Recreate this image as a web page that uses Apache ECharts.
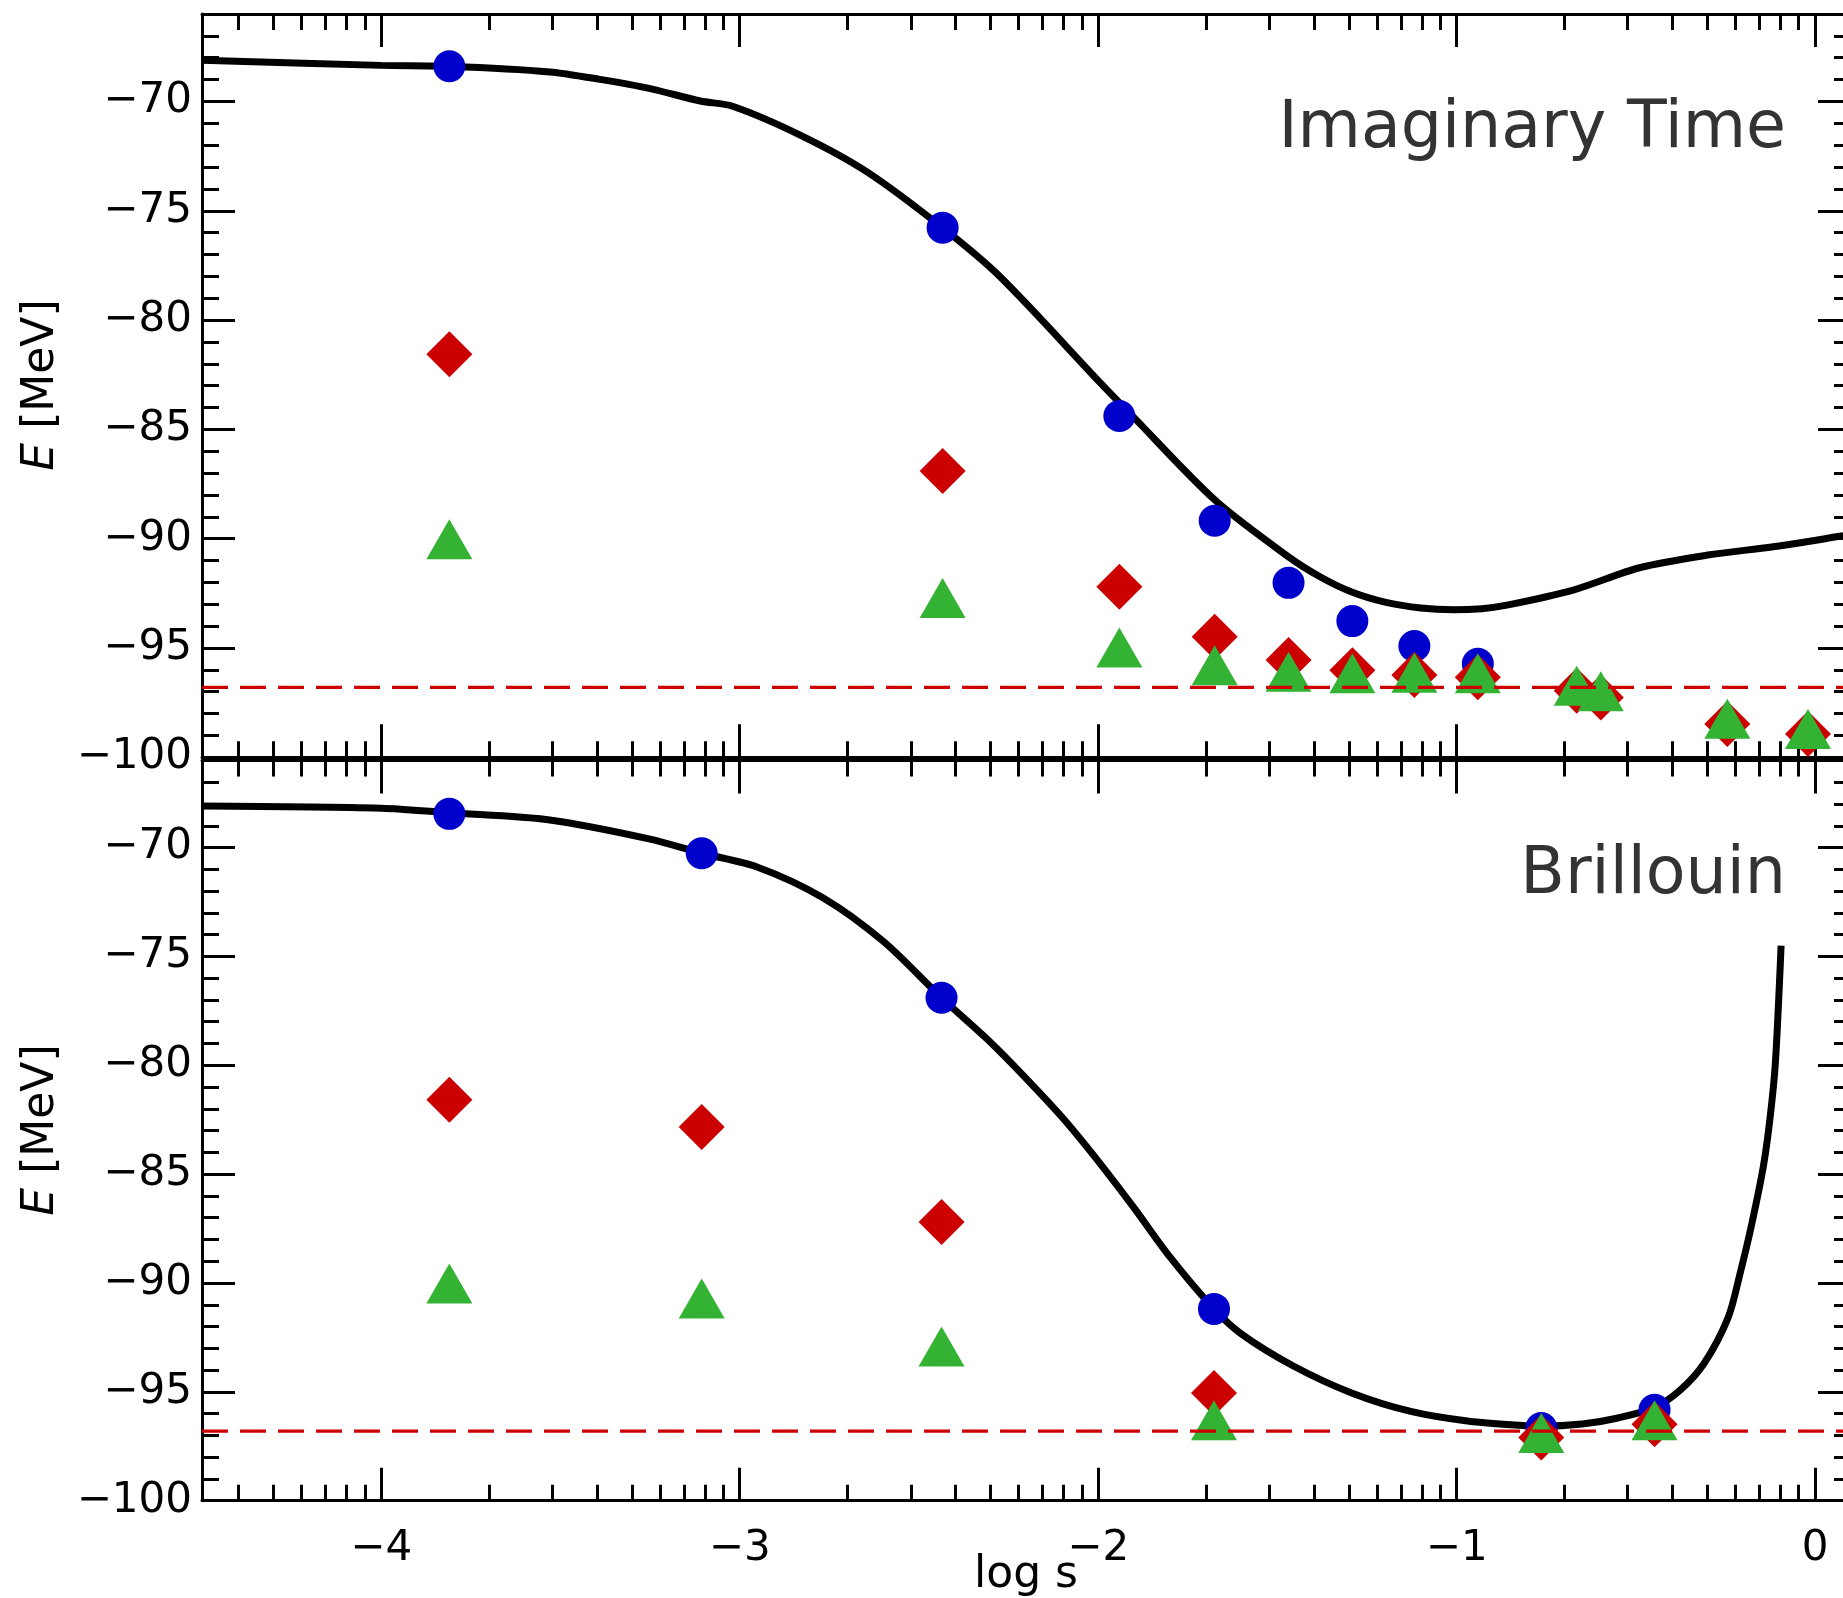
<!DOCTYPE html>
<html>
<head>
<meta charset="utf-8">
<script src="https://cdn.jsdelivr.net/npm/echarts@6/dist/echarts.min.js"></script>
<style>
  html, body { margin: 0; padding: 0; background: #fff; }
  #chart { width: 1843px; height: 1598px; }
</style>
</head>
<body>
<div id="chart"></div>
<script>
// ---- axis ranges and ticks ----
const X_MIN = -4.5, X_MAX = 0.1;
const Y_MIN = -100, Y_MAX = -66;
const xMajorTicks = [-4, -3, -2, -1, 0];
const yMajorTicks = [-100, -95, -90, -85, -80, -75, -70];
const E_REF = -96.8;

// ---- Imaginary Time panel ----
const logSTop = [-3.81, -2.434, -1.941, -1.675, -1.469, -1.291, -1.118, -0.941, -0.665, -0.598, -0.245, -0.02];
const blueTop = [-68.39, -75.78, -84.39, -89.18, -92.02, -93.77, -94.91, -95.72];
const redTop = [-81.56, -86.9, -92.2, -94.49, -95.55, -96.02, -96.24, -96.34, -96.96, -97.26, -98.48, -98.93];
const greenTop = [-90.03, -92.71, -94.98, -95.79, -96.09, -96.16, -96.13, -96.16, -96.73, -96.98, -98.24, -98.71];
const curveTopX = [-4.5, -4.0, -3.81, -3.53, -3.39, -3.25, -3.11, -3.02, -2.83, -2.645, -2.434, -2.273, -1.994, -1.902, -1.674, -1.469, -1.38, -1.291, -1.2, -1.1, -1.009, -0.93, -0.86, -0.675, -0.49, -0.30, -0.117, 0.0725, 0.1];
const curveTopY = [-68.12, -68.35, -68.39, -68.65, -68.99, -69.41, -69.98, -70.22, -71.55, -73.22, -75.78, -78.03, -82.87, -84.43, -88.24, -90.83, -91.75, -92.45, -92.9, -93.17, -93.25, -93.2, -93.04, -92.35, -91.33, -90.75, -90.37, -89.88, -89.8];

// ---- Brillouin panel ----
const logSBot = [-3.81, -3.106, -2.437, -1.677, -0.764, -0.448];
const blueBot = [-68.45, -70.26, -76.9, -91.19, -96.66, -95.82];
const redBot = [-81.58, -82.83, -87.2, -95.05, -97.1, -96.49];
const greenBot = [-90.02, -90.71, -92.92, -96.31, -96.89, -96.31];
const curveBotX = [-4.5, -4.0, -3.81, -3.53, -3.25, -3.106, -2.95, -2.768, -2.6, -2.437, -2.3, -2.21, -2.1, -2.0, -1.9, -1.8, -1.677, -1.6, -1.457, -1.293, -1.128, -0.965, -0.8, -0.764, -0.65, -0.55, -0.448, -0.375, -0.31, -0.243, -0.21, -0.177, -0.144, -0.125, -0.111, -0.095];
const curveBotY = [-68.09, -68.19, -68.4, -68.73, -69.61, -70.26, -70.9, -72.3, -74.3, -76.9, -78.95, -80.45, -82.4, -84.4, -86.55, -88.8, -91.19, -92.35, -93.8, -95.05, -95.9, -96.35, -96.56, -96.58, -96.48, -96.2, -95.72, -94.9, -93.7, -91.6, -89.6, -87.3, -84.6, -82.3, -79.9, -74.5];

const COLORS = { blue: '#0000cc', red: '#cc0000', green: '#33b233' };
const FONT = 'DejaVu Sans';

// log-style minor ticks between decades
const xMinorTicks = [];
for (let d = -5; d <= 0; d++) {
  for (let k = 2; k <= 9; k++) {
    const v = d + Math.log10(k);
    if (v > X_MIN && v < X_MAX) xMinorTicks.push(v);
  }
}
const yMinorTicks = [];
for (let v = Y_MIN + 1; v < Y_MAX; v++) if (v % 5 !== 0) yMinorTicks.push(v);

const minusFmt = v => (v < 0 ? '\u2212' : '') + Math.abs(v);

const zip = (xs, ys) => ys.map((y, i) => [xs[i], y]);

function xAxesFor(gridIndex, withLabels) {
  const common = {
    type: 'value', gridIndex, min: X_MIN, max: X_MAX,
    splitLine: { show: false }, axisLabel: { show: false }
  };
  const line = { show: true, onZero: false, lineStyle: { color: '#000', width: 3 } };
  const major = { show: true, inside: true, length: 33, customValues: xMajorTicks, lineStyle: { color: '#000', width: 3 } };
  const minor = { show: true, inside: true, length: 16, customValues: xMinorTicks, lineStyle: { color: '#000', width: 3 } };
  return [
    Object.assign({}, common, {
      position: 'bottom', axisLine: line, axisTick: major,
      axisLabel: withLabels ? {
        show: true, customValues: xMajorTicks, formatter: minusFmt, margin: 27,
        color: '#000', fontSize: 42, fontFamily: FONT
      } : { show: false }
    }),
    Object.assign({}, common, { position: 'bottom', axisLine: { show: false, onZero: false }, axisTick: minor }),
    Object.assign({}, common, { position: 'top', axisLine: line, axisTick: major }),
    Object.assign({}, common, { position: 'top', axisLine: { show: false, onZero: false }, axisTick: minor })
  ];
}

function yAxesFor(gridIndex) {
  const common = {
    type: 'value', gridIndex, min: Y_MIN, max: Y_MAX,
    splitLine: { show: false }, axisLabel: { show: false }
  };
  const line = { show: true, onZero: false, lineStyle: { color: '#000', width: 3 } };
  const major = { show: true, inside: true, length: 33, customValues: yMajorTicks, lineStyle: { color: '#000', width: 3 } };
  const minor = { show: true, inside: true, length: 17, customValues: yMinorTicks, lineStyle: { color: '#000', width: 3 } };
  return [
    Object.assign({}, common, {
      position: 'left', axisLine: line, axisTick: major,
      axisLabel: {
        show: true, customValues: yMajorTicks, formatter: minusFmt, margin: 10,
        color: '#000', fontSize: 42, fontFamily: FONT
      }
    }),
    Object.assign({}, common, { position: 'left', axisLine: { show: false, onZero: false }, axisTick: minor }),
    Object.assign({}, common, { position: 'right', axisLine: line, axisTick: major }),
    Object.assign({}, common, { position: 'right', axisLine: { show: false, onZero: false }, axisTick: minor })
  ];
}

function panelSeries(ax, logS, curveX, curveY, blue, red, green) {
  return [
    {
      type: 'line', xAxisIndex: ax, yAxisIndex: ax, data: zip(curveX, curveY),
      showSymbol: false, smooth: 0.3,
      lineStyle: { color: '#000', width: 7 }, z: 2, silent: true
    },
    {
      type: 'scatter', xAxisIndex: ax, yAxisIndex: ax, data: zip(logS, blue),
      symbol: 'circle', symbolSize: 32, itemStyle: { color: COLORS.blue, opacity: 1 }, z: 3
    },
    {
      type: 'scatter', xAxisIndex: ax, yAxisIndex: ax, data: zip(logS, red),
      symbol: 'diamond', symbolSize: [46, 46], itemStyle: { color: COLORS.red, opacity: 1 }, z: 3
    },
    {
      type: 'scatter', xAxisIndex: ax, yAxisIndex: ax, data: zip(logS, green),
      symbol: 'triangle', symbolSize: [46, 40], itemStyle: { color: COLORS.green, opacity: 1 }, z: 3
    },
    {
      type: 'line', xAxisIndex: ax, yAxisIndex: ax, data: [[X_MIN, E_REF], [X_MAX, E_REF]],
      showSymbol: false, lineStyle: { color: COLORS.red, width: 3.3, type: [26, 12] }, z: 4, silent: true
    }
  ];
}

const chart = echarts.init(document.getElementById('chart'), null, { renderer: 'canvas' });

chart.setOption({
  animation: false,
  backgroundColor: '#fff',
  grid: [
    { left: 202, top: 14, width: 1649, height: 743.3, outerBoundsMode: 'none', containLabel: false },
    { left: 202, top: 760.5, width: 1649, height: 740.2, outerBoundsMode: 'none', containLabel: false }
  ],
  xAxis: xAxesFor(0, false).concat(xAxesFor(1, true)),
  yAxis: yAxesFor(0).concat(yAxesFor(1)),
  series: panelSeries(0, logSTop, curveTopX, curveTopY, blueTop, redTop, greenTop)
    .concat(panelSeries(4, logSBot, curveBotX, curveBotY, blueBot, redBot, greenBot)),
  graphic: [
    {
      type: 'text', x: 1786, y: 130,
      style: { text: 'Imaginary Time', fontSize: 65, fontFamily: FONT, fill: '#333', align: 'right', verticalAlign: 'middle' }
    },
    {
      type: 'text', x: 1786, y: 876,
      style: { text: 'Brillouin', fontSize: 65, fontFamily: FONT, fill: '#333', align: 'right', verticalAlign: 'middle' }
    },
    {
      type: 'text', x: 42, y: 385, rotation: Math.PI / 2,
      style: {
        text: '{i|E} [MeV]', fontSize: 44, fontFamily: FONT, fill: '#000', align: 'center', verticalAlign: 'middle',
        rich: { i: { fontStyle: 'italic', fontSize: 44, fontFamily: FONT, fill: '#000' } }
      }
    },
    {
      type: 'text', x: 42, y: 1130, rotation: Math.PI / 2,
      style: {
        text: '{i|E} [MeV]', fontSize: 44, fontFamily: FONT, fill: '#000', align: 'center', verticalAlign: 'middle',
        rich: { i: { fontStyle: 'italic', fontSize: 44, fontFamily: FONT, fill: '#000' } }
      }
    },
    {
      type: 'text', x: 1026, y: 1576,
      style: { text: 'log s', fontSize: 44, fontFamily: FONT, fill: '#000', align: 'center', verticalAlign: 'middle' }
    }
  ]
});
</script>
</body>
</html>
